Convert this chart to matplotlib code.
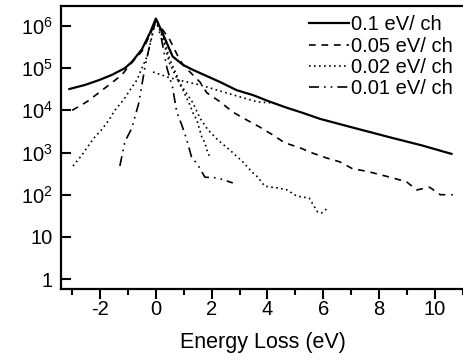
import matplotlib
matplotlib.use("Agg")
import matplotlib.pyplot as plt
from matplotlib.ticker import FixedLocator, MultipleLocator

plt.rcParams['font.family'] = ['Liberation Sans', 'DejaVu Sans']
plt.rcParams['mathtext.fontset'] = 'custom'
plt.rcParams['mathtext.rm'] = 'Liberation Sans'
plt.rcParams['axes.unicode_minus'] = False

# 0.1 eV/ch (solid)
x_01 = [-3.1, -2.54, -2.04, -1.58, -1.11, -0.86, -0.5, -0.2, 0.0, 0.14, 0.39, 0.6, 0.97, 1.33,
        2.3, 2.9, 3.48, 4.09, 4.7, 5.27, 5.88, 7.0, 8.5, 9.5, 10.6]
y_01 = [3.2e4, 4.0e4, 5.2e4, 6.9e4, 1.0e5, 1.4e5, 2.8e5, 7.1e5, 1.5e6, 9.5e5, 4.0e5, 1.9e5, 1.2e5, 9.1e4,
        4.7e4, 3.0e4, 2.3e4, 1.6e4, 1.15e4, 8.7e3, 6.3e3, 4.0e3, 2.2e3, 1.5e3, 9.3e2]

# 0.05 eV/ch (dashed)
x_005 = [-3.0, -2.47, -2.0, -1.58, -1.22, -0.93, -0.5, -0.2, 0.0, 0.2, 0.5, 0.68, 0.86, 1.04, 1.33,
         1.58, 1.83, 2.3, 2.76, 3.26, 3.73, 4.2, 4.62, 5.16, 5.6, 6.13, 6.6, 7.06, 7.56, 8.03, 8.5,
         9.0, 9.35, 9.82, 10.2, 10.65]
y_005 = [1.0e4, 1.6e4, 2.75e4, 4.5e4, 6.9e4, 1.2e5, 2.5e5, 6.3e5, 1.4e6, 8.9e5, 4.7e5, 2.7e5, 1.55e5,
         1.07e5, 6.9e4, 4.7e4, 2.6e4, 1.6e4, 9.1e3, 5.9e3, 4.0e3, 2.6e3, 1.7e3, 1.3e3, 9.8e2, 7.4e2,
         6.0e2, 4.1e2, 3.6e2, 3.0e2, 2.5e2, 2.0e2, 1.3e2, 1.5e2, 1.0e2, 1.0e2]

# 0.02 eV/ch (dotted)
x_002 = [-2.97, -2.65, -2.47, -2.22, -1.94, -1.68, -1.47, -1.15, -0.93, -0.68, -0.57, -0.3, 0.0, 0.2,
         0.5, 0.9, 1.33, 1.58, 1.86, 2.22, 2.65, 3.12, 3.44, 3.66, 3.9, 4.16, 4.37, 4.7, 5.05, 5.5,
         5.8, 5.95, 6.2]
y_002 = [4.8e2, 8.7e2, 1.3e3, 2.2e3, 3.5e3, 5.9e3, 1.0e4, 1.8e4, 3.0e4, 5.2e4, 7.8e4, 2.0e5, 1.4e6,
         7.9e5, 1.6e5, 4.0e4, 1.5e4, 6.6e3, 3.5e3, 2.0e3, 1.15e3, 6.0e2, 3.5e2, 2.6e2, 1.6e2, 1.5e2,
         1.45e2, 1.3e2, 93, 83, 39, 37, 51]

# 0.01 eV/ch (dash-dot)
x_001 = [-1.29, -1.11, -0.86, -0.61, -0.5, -0.39, -0.2, 0.0, 0.2, 0.4, 0.6, 0.75, 0.93, 1.11, 1.29,
         1.47, 1.76, 2.22, 2.76]
y_001 = [4.8e2, 1.8e3, 3.8e3, 1.5e4, 4.0e4, 1.07e5, 4.0e5, 1.4e6, 5.0e5, 1.0e5, 3.5e4, 9.1e3, 4.5e3,
         2.0e3, 7.4e2, 5.6e2, 2.6e2, 2.5e2, 1.9e2]

# extra dotted pieces seen in the figure
x_steep = [0.0, 0.2, 0.5, 0.97, 1.22, 1.33, 1.47, 1.65, 1.76, 1.86, 1.94]
y_steep = [1.4e6, 6.3e5, 1.26e5, 3.0e4, 1.35e4, 8.7e3, 5.9e3, 2.3e3, 1.7e3, 9.8e2, 7.9e2]
x_flat = [-0.1, 0.5, 1.11, 1.58, 2.4, 3.0, 3.62, 4.09]
y_flat = [8.1e4, 5.9e4, 4.7e4, 4.0e4, 2.75e4, 2.1e4, 1.6e4, 1.5e4]

labels = ['0.1 eV/ ch', '0.05 eV/ ch', '0.02 eV/ ch', '0.01 eV/ ch']
ytick_vals = [1, 10, 1e2, 1e3, 1e4, 1e5, 1e6]
ytick_labels = ['1', '10', r'$\mathregular{10^{2}}$', r'$\mathregular{10^{3}}$',
                r'$\mathregular{10^{4}}$', r'$\mathregular{10^{5}}$', r'$\mathregular{10^{6}}$']

fig = plt.figure(figsize=(4.64, 3.6), dpi=100)
ax = fig.add_axes([0.1315, 0.197, 0.8685, 0.786])

ax.plot(x_01, y_01, color='black', lw=1.6, ls='-', label=labels[0])
ax.plot(x_005, y_005, color='black', lw=1.2, ls=(0, (4, 3.5)), label=labels[1])
ax.plot(x_002, y_002, color='black', lw=1.2, ls=(0, (1, 2)), label=labels[2])
ax.plot(x_001, y_001, color='black', lw=1.2, ls=(0, (6, 3, 1, 3, 1, 3)), label=labels[3])
ax.plot(x_steep, y_steep, color='black', lw=1.2, ls=(0, (1, 2)))
ax.plot(x_flat, y_flat, color='black', lw=1.2, ls=(0, (1, 2)))

ax.set_yscale('log')
ax.set_xlim(-3.4, 11.05)
ax.set_ylim(0.58, 10**6.47)

ax.yaxis.set_major_locator(FixedLocator(ytick_vals))
ax.set_yticklabels(ytick_labels)
ax.yaxis.set_minor_locator(FixedLocator([]))
ax.xaxis.set_major_locator(MultipleLocator(2))
ax.xaxis.set_minor_locator(MultipleLocator(1))

ax.tick_params(axis='y', which='major', direction='in', length=7, width=1.5, labelsize=14.5, pad=6)
ax.tick_params(axis='x', which='major', direction='out', length=7, width=1.5, labelsize=14.5, pad=1)
ax.tick_params(axis='x', which='minor', direction='out', length=4, width=1.5)

for side in ['left', 'bottom', 'top']:
    ax.spines[side].set_linewidth(1.6)
ax.spines['right'].set_visible(False)

ax.set_xlabel('Energy Loss (eV)', fontsize=15.5, labelpad=9)

ax.legend(loc='upper left', bbox_to_anchor=(0.61, 0.975), frameon=False, fontsize=14.5,
          handlelength=2.0, handletextpad=0.1, labelspacing=0.12, borderaxespad=0,
          borderpad=0.1)

plt.savefig('out.png', dpi=100)
